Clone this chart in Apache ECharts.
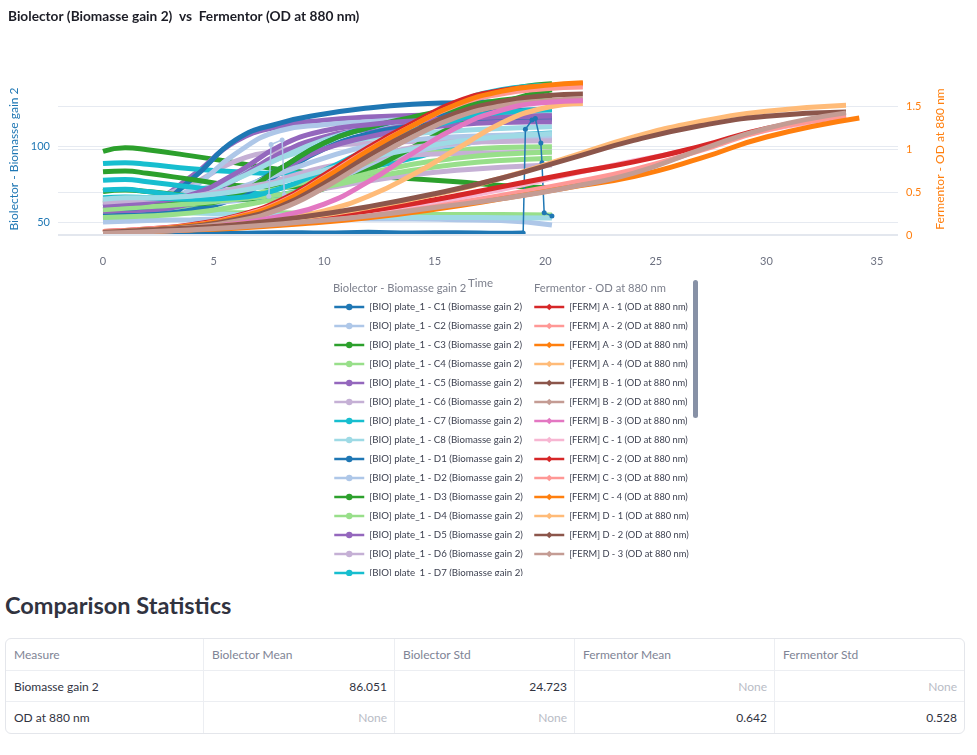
<!DOCTYPE html>
<html>
<head>
<meta charset="utf-8">
<script src="https://cdn.jsdelivr.net/npm/echarts@6/dist/echarts.min.js"></script>
<style>
  html, body { margin: 0; padding: 0; background: #fff; overflow: hidden; }
  body { font-family: Lato, "Noto Sans", sans-serif; width: 977px; height: 755px; position: relative; }
  #wrap { position: absolute; left: 0; top: 0; width: 977px; height: 576px; overflow: hidden; }
  #chart { width: 977px; height: 1000px; }
  .stats-title { position: absolute; left: 5px; top: 590px; margin: 0; font-size: 23.5px; font-weight: 700; color: #31333f; line-height: 30px; }
  table { position: absolute; left: 5px; top: 638px; width: 958px; border-collapse: separate; border-spacing: 0;
          border: 1px solid #e4e6eb; border-radius: 6px; font-size: 12px; table-layout: fixed; }
  th, td { padding: 0 7px 0 8px; border-right: 1px solid #eceef2; border-bottom: 1px solid #eceef2; box-sizing: border-box; white-space: nowrap; }
  th { height: 32px; font-weight: 400; color: #808495; text-align: left; }
  td { height: 31px; color: #31333f; }
  td.num { text-align: right; }
  td.none { text-align: right; color: #b9bcc6; }
  tr:last-child td { border-bottom: none; }
  th:last-child, td:last-child { border-right: none; }
</style>
</head>
<body>
<div id="wrap"><div id="chart"></div></div>
<h2 class="stats-title">Comparison Statistics</h2>
<table id="stats"></table>
<script>
// ---- Biolector (left axis), time in h ----
const bioTime = [0, 1, 2, 4, 6, 8, 10, 12, 14, 16, 18, 20.3];

const bioC1Time  = [0, 2, 4, 6, 8, 10, 12, 14, 16, 18, 19.0];
const BIO_C1     = [43, 42.5, 43, 42.6, 43, 42.7, 43.2, 42.8, 43, 42.6, 42.8];
const bioC1SpikeTime = [19.0, 19.1, 19.4, 19.55, 19.8, 19.85, 19.95, 20.3];
const BIO_C1_SPIKE   = [42.8, 111, 117, 118, 102, 89, 56, 54];

const BIO_C2 = [50, 50.5, 51, 51.5, 52, 52, 52.5, 52, 52, 51.5, 51, 48];
const BIO_C3 = [96.5, 98.8, 97.5, 93.5, 89, 84.5, 81.5, 80, 78.5, 76.5, 74, 72.5];
const BIO_C4 = [55, 55, 55.5, 56, 56, 56, 55.5, 55.5, 55, 55, 55, 54.6];
const BIO_C5 = [60, 61, 63, 80, 103, 113, 117, 119, 120, 121, 121, 121];
const BIO_C6 = [62, 63, 65, 75, 90, 97, 100, 102, 103, 104, 104.5, 104.6];
const BIO_C7 = [88.5, 89, 88, 85, 83, 82, 83, 86, 92, 100, 106, 108.5];
const BIO_C8 = [64, 65, 66, 70, 80, 92, 100, 105, 108, 110, 111.5, 112.7];
const BIO_D1 = [57, 57.5, 59, 78, 104, 115, 121, 125, 127.5, 128.5, 129, 129];
const BIO_D2 = [52, 54, 58, 72, 95, 110, 114, 116, 117.5, 118.5, 119, 119.5];
const BIO_D3 = [83, 83.5, 82, 78, 74, 73, 77, 90, 107, 124, 136, 141];
const BIO_D4 = [56, 57, 58, 61, 66, 72, 80, 88, 94, 97, 99, 99.5];
const BIO_D5 = [58, 59, 60, 65, 78, 95, 106, 111, 114, 116, 117, 117.5];
const BIO_D6 = [64, 65, 65, 66, 70, 78, 86, 91, 94, 95, 95.5, 96];
const BIO_D7 = [77.5, 78, 76.5, 73, 70, 68, 75, 92, 112, 128, 137, 140];
const BIO_D8 = [58, 58, 57.5, 56, 55, 54.5, 54, 53.5, 53, 53, 52.8, 52.6];
const BIO_E1 = [54, 54.5, 55, 58, 66, 82, 98, 108, 113, 116, 117, 118];
const BIO_E2 = [60, 61, 61, 62, 64, 68, 74, 86, 96, 101, 104, 105];
const BIO_E3 = [70, 71, 70, 67, 65, 66, 72, 84, 99, 114, 128, 137];
const BIO_E4 = [53, 53.5, 54, 56, 60, 66, 74, 82, 88, 92, 94.5, 96];
const BIO_E5 = [57, 57.5, 58, 62, 70, 84, 98, 106, 111, 114, 115.5, 116];
const BIO_E6 = [60, 61, 62, 63, 65, 68, 72, 77, 81, 84, 86, 87.5];
const BIO_E7 = [71, 71.5, 70, 67, 66, 68, 78, 94, 108, 117, 122, 123.7];
const BIO_E8 = [62, 63, 64, 68, 78, 92, 104, 112, 117, 120, 122, 123.5];
const BIO_F1 = [59, 59, 60, 63, 70, 85, 102, 112, 118, 121, 123, 124];
const BIO_F2 = [63, 64, 64, 66, 72, 82, 92, 100, 104, 106, 107, 108];
const BIO_F3 = [62, 62.5, 62, 62, 68, 85, 102, 112, 119, 125, 130, 133];
const BIO_F4 = [58, 59, 60, 62, 65, 68, 73, 79, 84, 88, 90.5, 92];
const BIO_F5 = [61, 62, 63, 68, 82, 100, 110, 114, 116.5, 118, 119, 119.5];
const BIO_F6 = [63, 64, 65, 67, 72, 77, 84, 92, 99, 102, 103, 103.5];
const BIO_F7 = [66, 66.5, 66, 65, 66, 72, 84, 98, 110, 118, 122, 124];
const BIO_F8 = [65, 66, 66, 67, 70, 76, 84, 92, 98, 103, 106, 108];

// glitch in E2 around 8 h
const bioE2SpikeTime = [7.5, 7.6, 8.1, 8.2];
const BIO_E2_SPIKE   = [67, 101, 104, 68];

// ---- Fermentor (right axis) ----
const fermABTime = [0, 2, 4, 6, 8, 10, 12, 14, 16, 18, 20, 21.7];
const FERM_A1 = [0.04, 0.07, 0.12, 0.22, 0.4, 0.7, 1.02, 1.3, 1.55, 1.68, 1.73, 1.76];
const FERM_A2 = [0.04, 0.07, 0.11, 0.21, 0.38, 0.67, 0.99, 1.27, 1.51, 1.64, 1.7, 1.72];
const FERM_A3 = [0.03, 0.06, 0.11, 0.2, 0.37, 0.66, 0.98, 1.27, 1.52, 1.67, 1.74, 1.77];
const FERM_A4 = [0.03, 0.05, 0.08, 0.12, 0.18, 0.28, 0.45, 0.7, 1.0, 1.3, 1.48, 1.53];
const FERM_B1 = [0.03, 0.06, 0.1, 0.18, 0.33, 0.6, 0.92, 1.2, 1.42, 1.55, 1.62, 1.64];
const FERM_B2 = [0.03, 0.05, 0.09, 0.16, 0.3, 0.55, 0.86, 1.14, 1.37, 1.5, 1.56, 1.58];
const FERM_B3 = [0.03, 0.05, 0.08, 0.13, 0.22, 0.36, 0.62, 0.95, 1.25, 1.45, 1.54, 1.56];

const fermCDTime = [0, 3, 6, 9, 12, 15, 18, 21, 24, 27, 30, 33.6];
const fermC4Time = [0, 3, 6, 9, 12, 15, 18, 21, 24, 27, 30, 34.2];
const FERM_C1 = [0.03, 0.06, 0.1, 0.16, 0.26, 0.38, 0.53, 0.7, 0.86, 1.02, 1.22, 1.36];
const FERM_C2 = [0.03, 0.06, 0.11, 0.18, 0.28, 0.41, 0.56, 0.71, 0.85, 1.03, 1.24, 1.38];
const FERM_C3 = [0.03, 0.05, 0.09, 0.14, 0.22, 0.33, 0.46, 0.6, 0.76, 0.98, 1.22, 1.38];
const FERM_C4 = [0.02, 0.05, 0.08, 0.13, 0.2, 0.3, 0.42, 0.55, 0.68, 0.89, 1.14, 1.36];
const FERM_D1 = [0.03, 0.07, 0.12, 0.2, 0.32, 0.47, 0.66, 0.9, 1.14, 1.32, 1.44, 1.51];
const FERM_D2 = [0.03, 0.07, 0.12, 0.21, 0.33, 0.48, 0.66, 0.88, 1.1, 1.27, 1.38, 1.43];
const FERM_D3 = [0.02, 0.05, 0.09, 0.15, 0.22, 0.32, 0.42, 0.55, 0.72, 0.99, 1.24, 1.42];

// ---- stats table ----
const statColumns  = ['Measure', 'Biolector Mean', 'Biolector Std', 'Fermentor Mean', 'Fermentor Std'];
const statMeasures = ['Biomasse gain 2', 'OD at 880 nm'];
const bioMean  = [86.051, null];
const bioStd   = [24.723, null];
const fermMean = [null, 0.642];
const fermStd  = [null, 0.528];

const bioColors  = ['#1f77b4', '#aec7e8', '#2ca02c', '#98df8a', '#9467bd', '#c5b0d5', '#17becf', '#9edae5'];
const fermColors = ['#d62728', '#ff9896', '#ff7f0e', '#ffbb78', '#8c564b', '#c49c94', '#e377c2', '#f7b6d2'];

const bioList = [
  ['C1', bioC1Time, BIO_C1], ['C2', bioTime, BIO_C2], ['C3', bioTime, BIO_C3], ['C4', bioTime, BIO_C4],
  ['C5', bioTime, BIO_C5], ['C6', bioTime, BIO_C6], ['C7', bioTime, BIO_C7], ['C8', bioTime, BIO_C8],
  ['D1', bioTime, BIO_D1], ['D2', bioTime, BIO_D2], ['D3', bioTime, BIO_D3], ['D4', bioTime, BIO_D4],
  ['D5', bioTime, BIO_D5], ['D6', bioTime, BIO_D6], ['D7', bioTime, BIO_D7], ['D8', bioTime, BIO_D8],
  ['E1', bioTime, BIO_E1], ['E2', bioTime, BIO_E2], ['E3', bioTime, BIO_E3], ['E4', bioTime, BIO_E4],
  ['E5', bioTime, BIO_E5], ['E6', bioTime, BIO_E6], ['E7', bioTime, BIO_E7], ['E8', bioTime, BIO_E8],
  ['F1', bioTime, BIO_F1], ['F2', bioTime, BIO_F2], ['F3', bioTime, BIO_F3], ['F4', bioTime, BIO_F4],
  ['F5', bioTime, BIO_F5], ['F6', bioTime, BIO_F6], ['F7', bioTime, BIO_F7], ['F8', bioTime, BIO_F8]
];
const fermList = [
  ['A - 1', fermABTime, FERM_A1], ['A - 2', fermABTime, FERM_A2], ['A - 3', fermABTime, FERM_A3],
  ['A - 4', fermABTime, FERM_A4], ['B - 1', fermABTime, FERM_B1], ['B - 2', fermABTime, FERM_B2],
  ['B - 3', fermABTime, FERM_B3], ['C - 1', fermCDTime, FERM_C1], ['C - 2', fermCDTime, FERM_C2],
  ['C - 3', fermCDTime, FERM_C3], ['C - 4', fermC4Time, FERM_C4], ['D - 1', fermCDTime, FERM_D1],
  ['D - 2', fermCDTime, FERM_D2], ['D - 3', fermCDTime, FERM_D3]
];

const FONT = 'Lato, "Noto Sans", sans-serif';
const pairs = (ts, vs) => ts.map((t, i) => [t, vs[i]]);
const bioName = w => `[BIO] plate_1 - ${w} (Biomasse gain 2)`;
const fermName = w => `[FERM] ${w} (OD at 880 nm)`;

const series = [];
// thicker zero line of the right axis
series.push({
  type: 'line', yAxisIndex: 1, data: [], silent: true, z: 1,
  markLine: { silent: true, symbol: 'none', animation: false, label: { show: false },
    lineStyle: { color: '#e3e7ee', width: 2, type: 'solid' }, data: [{ yAxis: 0 }] }
});

bioList.forEach(([w, ts, vs], i) => {
  const c = bioColors[i % 8];
  series.push({
    name: bioName(w), type: 'line', yAxisIndex: 0, data: pairs(ts, vs),
    smooth: 0.5, symbol: 'circle', showSymbol: false,
    lineStyle: { width: 5, color: c }, itemStyle: { color: c },
    emphasis: { disabled: true }, animation: false, z: 2
  });
});
// thin segments with visible markers (sparse points)
series.push({
  name: bioName('C1'), type: 'line', yAxisIndex: 0, data: pairs(bioC1SpikeTime, BIO_C1_SPIKE),
  symbol: 'circle', symbolSize: 5, showSymbol: true,
  lineStyle: { width: 1.5, color: bioColors[0] }, itemStyle: { color: bioColors[0] },
  emphasis: { disabled: true }, animation: false, z: 2
});
series.push({
  name: bioName('E2'), type: 'line', yAxisIndex: 0, data: pairs(bioE2SpikeTime, BIO_E2_SPIKE),
  symbol: 'circle', symbolSize: 5, showSymbol: true,
  lineStyle: { width: 1.5, color: bioColors[1] }, itemStyle: { color: bioColors[1] },
  emphasis: { disabled: true }, animation: false, z: 2
});

fermList.forEach(([w, ts, vs], i) => {
  const c = fermColors[i % 8];
  series.push({
    name: fermName(w), type: 'line', yAxisIndex: 1, data: pairs(ts, vs),
    smooth: 0.5, symbol: 'diamond', showSymbol: false,
    lineStyle: { width: 5, color: c }, itemStyle: { color: c },
    emphasis: { disabled: true }, animation: false, z: 3
  });
});

const legendBase = {
  orient: 'vertical', itemWidth: 30, itemHeight: 8, itemGap: 7, selectedMode: false,
  padding: 0, lineStyle: { width: 2.5 }
};

const chart = echarts.init(document.getElementById('chart'));
chart.setOption({
  animation: false,
  title: {
    text: 'Biolector (Biomasse gain 2)  vs  Fermentor (OD at 880 nm)',
    left: 8, top: 10, padding: 0,
    textStyle: { fontFamily: FONT, fontSize: 13.7, fontWeight: 'bold', color: '#1c1d26' }
  },
  grid: { left: 58, right: 79, top: 78, height: 162, containLabel: false, outerBoundsMode: 'none' },
  xAxis: {
    type: 'value', min: -2.035, max: 35.95, splitNumber: 7,
    axisLine: { show: false }, axisTick: { show: false }, splitLine: { show: false },
    axisLabel: { margin: 16, color: '#6d7180', fontSize: 11, fontFamily: FONT, showMinLabel: false, showMaxLabel: false }
  },
  yAxis: [
    {
      type: 'value', position: 'left', min: 38.16, max: 144.7, splitNumber: 2,
      axisLine: { show: false }, axisTick: { show: false },
      splitLine: { show: true, showMinLine: false, showMaxLine: false, lineStyle: { color: '#e6eaf1', width: 1 } },
      axisLabel: { color: '#1f77b4', fontSize: 11, fontFamily: FONT, margin: 8, showMinLabel: false, showMaxLabel: false },
      name: 'Biolector - Biomasse gain 2', nameLocation: 'middle', nameGap: 38,
      nameTextStyle: { color: '#1f77b4', fontSize: 12, fontFamily: FONT }
    },
    {
      type: 'value', position: 'right', min: -0.058, max: 1.8256, splitNumber: 4,
      axisLine: { show: false }, axisTick: { show: false },
      splitLine: { show: true, showMinLine: false, showMaxLine: false, lineStyle: { color: '#e6eaf1', width: 1 } },
      axisLabel: { color: '#ff7f0e', fontSize: 11, fontFamily: FONT, margin: 8, showMinLabel: false, showMaxLabel: false },
      name: 'Fermentor - OD at 880 nm', nameLocation: 'middle', nameGap: 36,
      nameTextStyle: { color: '#ff7f0e', fontSize: 12, fontFamily: FONT }
    }
  ],
  legend: [
    Object.assign({}, legendBase, {
      left: 333, top: 301, data: bioList.map(b => bioName(b[0])),
      textStyle: { fontFamily: FONT, fontSize: 9.7, color: '#3d4150', lineHeight: 12 }
    }),
    Object.assign({}, legendBase, {
      left: 533, top: 301, data: fermList.map(f => fermName(f[0])),
      textStyle: { fontFamily: FONT, fontSize: 9.3, color: '#3d4150', lineHeight: 12 }
    })
  ],
  graphic: [
    { type: 'text', x: 333, y: 288, style: { text: 'Biolector - Biomasse gain 2', fontSize: 11.2, fontFamily: FONT, fill: '#7d808d', verticalAlign: 'middle' } },
    { type: 'text', x: 534, y: 288, style: { text: 'Fermentor - OD at 880 nm', fontSize: 11.2, fontFamily: FONT, fill: '#7d808d', verticalAlign: 'middle' } },
    { type: 'text', x: 468, y: 283, style: { text: 'Time', fontSize: 11.5, fontFamily: FONT, fill: '#7d808d', verticalAlign: 'middle' } },
    { type: 'rect', shape: { x: 693, y: 280, width: 5, height: 138, r: 2.5 }, style: { fill: '#8791a6' } }
  ],
  series: series
});

// stats table
const fmt = v => (v === null ? 'None' : v.toFixed(3));
let html = '<tr>' + statColumns.map(c => `<th>${c}</th>`).join('') + '</tr>';
statMeasures.forEach((m, i) => {
  html += '<tr><td>' + m + '</td>' +
    [bioMean[i], bioStd[i], fermMean[i], fermStd[i]]
      .map(v => `<td class="${v === null ? 'none' : 'num'}">${fmt(v)}</td>`).join('') + '</tr>';
});
const tbl = document.getElementById('stats');
tbl.innerHTML = '<colgroup><col style="width:198px"><col style="width:191px"><col style="width:180px"><col style="width:200px"><col style="width:189px"></colgroup>' + html;
</script>
</body>
</html>
